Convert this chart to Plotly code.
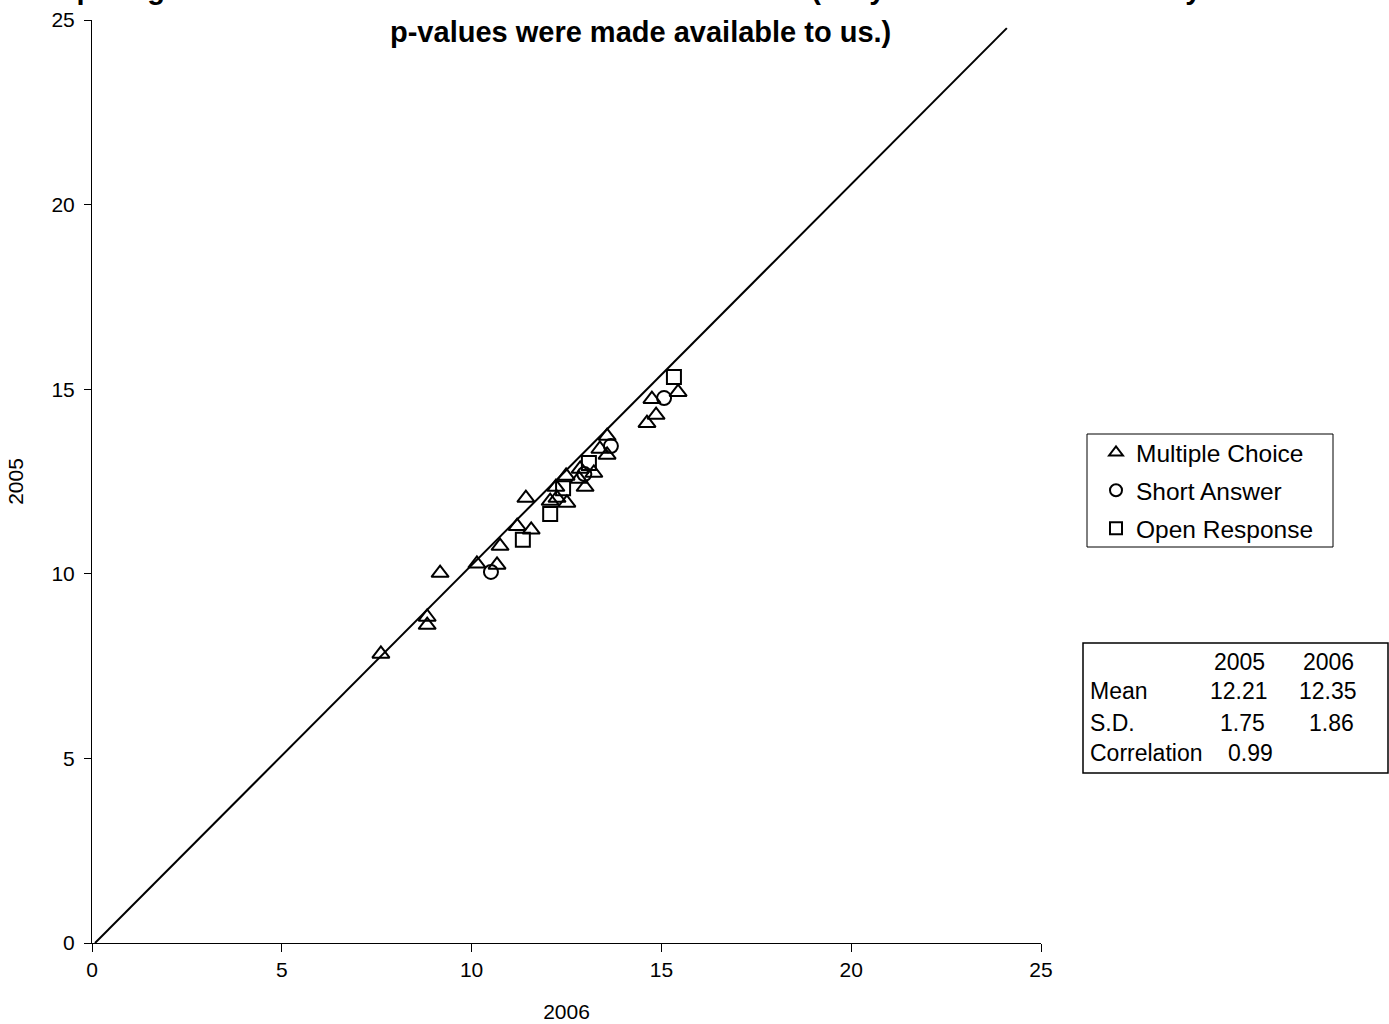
import plotly.graph_objects as go

# ---- data ----
mc_2006 = [7.61, 8.83, 8.83, 9.17, 10.14, 10.67, 10.75, 11.20, 11.57, 11.43, 12.07, 12.25, 12.51,
           12.22, 12.49, 12.86, 12.83, 12.99, 13.22, 13.38, 13.57, 13.57, 14.75, 14.86, 14.62, 15.44]
mc_2005 = [7.83, 8.83, 8.61, 10.02, 10.27, 10.24, 10.75, 11.29, 11.19, 12.05, 11.97, 12.05, 11.92,
           12.35, 12.65, 12.84, 12.57, 12.35, 12.73, 13.38, 13.73, 13.22, 14.73, 14.30, 14.08, 14.92]
sa_2006 = [10.51, 12.97, 13.67, 15.07]
sa_2005 = [10.05, 12.70, 13.46, 14.76]
or_2006 = [11.35, 12.07, 12.41, 13.09, 15.33]
or_2005 = [10.92, 11.62, 12.32, 13.00, 15.33]
ref_line_x = [0.08, 24.1]
ref_line_y = [0.0, 24.78]

stat_cols = ["2005", "2006"]
stat_rows = ["Mean", "S.D.", "Correlation"]
stat_vals = [["12.21", "12.35"], ["1.75", "1.86"], ["0.99", ""]]

tick_vals = [0, 5, 10, 15, 20, 25]
title_line1 = "Comparing 2005 and 2006 Item Scores on Common Items (Only items for which both years'"
title_line2 = "p-values were made available to us.)"

FONT = "Liberation Sans, Arial, sans-serif"
W, H = 1389, 1024
L, R, T, B = 92, 1041, 20, 943


def px(xp):
    return (xp - L) / (R - L)


def py(yp):
    return (B - yp) / (B - T)


fig = go.Figure()
fig.add_trace(go.Scatter(x=ref_line_x, y=ref_line_y, mode="lines",
                         line=dict(color="black", width=2), showlegend=False, hoverinfo="skip"))
fig.add_trace(go.Scatter(x=mc_2006, y=mc_2005, mode="markers", name="Multiple Choice", legendgroup="mc",
                         marker=dict(symbol="triangle-up-open", size=15, color="black",
                                     line=dict(width=2, color="black"))))
fig.add_trace(go.Scatter(x=sa_2006, y=sa_2005, mode="markers", name="Short Answer", legendgroup="sa",
                         marker=dict(symbol="circle-open", size=14, color="black",
                                     line=dict(width=2, color="black"))))
fig.add_trace(go.Scatter(x=or_2006, y=or_2005, mode="markers", name="Open Response\u00a0\u00a0\u00a0",
                         legendgroup="or",
                         marker=dict(symbol="square-open", size=14, color="black",
                                     line=dict(width=2, color="black"))))

annotations = []
# title lines
annotations.append(dict(text="<b>%s</b>" % title_line1, x=px(640), y=py(-11), xref="paper", yref="paper",
                        showarrow=False, xanchor="center", yanchor="middle",
                        font=dict(family=FONT, size=29, color="black")))
annotations.append(dict(text="<b>%s</b>" % title_line2, x=px(640), y=py(32), xref="paper", yref="paper",
                        showarrow=False, xanchor="center", yanchor="middle",
                        font=dict(family=FONT, size=29, color="black")))

# stats table
sfont = dict(family=FONT, size=23, color="black")
col_right = [1267, 1356]
row_y = [691.5, 722.5, 753.5]
header_y = 661.5
for j, c in enumerate(stat_cols):
    annotations.append(dict(text=c, x=px(col_right[j]), y=py(header_y), xref="paper", yref="paper",
                            showarrow=False, xanchor="right", yanchor="middle", font=sfont))
for i, rname in enumerate(stat_rows):
    annotations.append(dict(text=rname, x=px(1088), y=py(row_y[i]), xref="paper", yref="paper",
                            showarrow=False, xanchor="left", yanchor="middle", font=sfont))
    for j, v in enumerate(stat_vals[i]):
        if not v:
            continue
        xr = col_right[j] + (3 if (i == 0) else 0) + (8 if i == 2 else 0)
        annotations.append(dict(text=v, x=px(xr), y=py(row_y[i]), xref="paper", yref="paper",
                                showarrow=False, xanchor="right", yanchor="middle", font=sfont))

fig.update_layout(
    width=W, height=H,
    margin=dict(l=L, r=W - R, t=T, b=H - B, pad=0, autoexpand=False),
    paper_bgcolor="white", plot_bgcolor="white",
    font=dict(family=FONT, size=21, color="black"),
    xaxis=dict(range=[0, 25], tickvals=tick_vals, showline=True, linecolor="black", linewidth=1,
               ticks="outside", ticklen=8, tickcolor="black", showgrid=False, zeroline=False,
               automargin=False,
               title=dict(text="2006", standoff=24, font=dict(size=21)), tickfont=dict(size=21)),
    yaxis=dict(range=[0, 25], tickvals=tick_vals, showline=True, linecolor="black", linewidth=1,
               ticks="outside", ticklen=7, tickcolor="black", showgrid=False, zeroline=False,
               ticklabelstandoff=5, automargin=False,
               title=dict(text="2005", standoff=22, font=dict(size=21)), tickfont=dict(size=21)),
    legend=dict(x=px(1096), y=py(430), xanchor="left", yanchor="top", borderwidth=0,
                font=dict(family=FONT, size=24.5, color="black"), bgcolor="rgba(0,0,0,0)",
                itemsizing="constant", tracegroupgap=3),
    shapes=[dict(type="rect", xref="paper", yref="paper", x0=px(1083), x1=px(1388),
                 y0=py(773), y1=py(643), line=dict(color="black", width=1.5), fillcolor="rgba(0,0,0,0)"),
            dict(type="rect", xref="paper", yref="paper", x0=px(1087), x1=px(1333),
                 y0=py(547), y1=py(434), line=dict(color="black", width=1), fillcolor="rgba(0,0,0,0)")],
    annotations=annotations,
    showlegend=True,
)

fig.write_html("out.html")
